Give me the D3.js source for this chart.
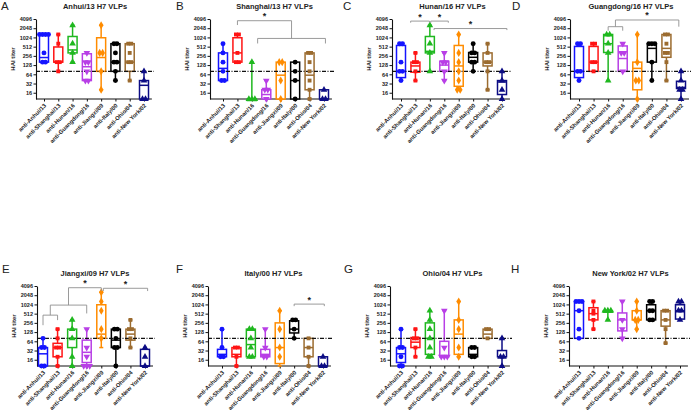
<!DOCTYPE html>
<html>
<head>
<meta charset="utf-8">
<script src="https://cdn.jsdelivr.net/npm/d3@7"></script>
<style>
  body { margin: 0; background: #fff; }
  svg { display: block; font-family: Arial, "Liberation Sans", sans-serif; }
</style>
</head>
<body>
<div id="chart"></div>
<script>
// antisera on the x axis, one box per antiserum
var antisera = ["anti-Anhui/13", "anti-Shanghai/13", "anti-Hunan/16", "anti-Guangdong/16",
                "anti-Jiangxi/09", "anti-Italy/00", "anti-Ohio/04", "anti-New York/02"];
var panelTitles = ["Anhui/13 H7 VLPs", "Shanghai/13 H7 VLPs", "Hunan/16 H7 VLPs", "Guangdong/16 H7 VLPs",
                   "Jiangxi/09 H7 VLPs", "Italy/00 H7 VLPs", "Ohio/04 H7 VLPs", "New York/02 H7 VLPs"];
var panelLetters = ["A", "B", "C", "D", "E", "F", "G", "H"];
var yTicks = [16, 32, 64, 128, 256, 512, 1024, 2048, 4096];
var threshold = 80;

// box stats per antiserum: [min, q1, median, q3, max]
var boxA = [[160,160,226,1280,1280],[80,160,160,500,1280],[160,320,400,1100,2560],[40,40,113,300,320],
            [20,80,226,1000,2560],[40,80,160,640,640],[40,80,160,640,640],[10,10,28,40,80]];
var boxB = [[40,40,100,320,640],[160,160,320,1000,1280],[10,10,10,10,160],[10,10,14,20,40],
            [10,10,60,160,160],[10,10,40,160,160],[10,20,60,320,320],[10,10,10,20,20]];
var boxC = [[40,50,80,560,640],[40,75,120,160,320],[80,320,360,1100,2560],[40,80,128,170,320],
            [20,26,120,560,1280],[80,160,230,330,640],[20,120,160,320,640],[10,14,36,40,80]];
var boxD = [[40,50,80,520,640],[80,80,160,520,640],[40,330,640,1280,1280],[80,80,210,540,640],
            [10,20,100,160,1280],[40,160,450,640,640],[40,230,450,1280,1280],[10,22,24,38,80]];
var boxE = [[10,10,25,40,80],[10,20,40,55,160],[10,40,80,160,320],[10,13,28,70,160],
            [40,80,110,1000,2560],[10,40,70,160,160],[40,70,110,160,320],[10,10,10,35,40]];
var boxF = [[20,20,24,35,160],[10,20,24,40,40],[20,20,50,160,160],[20,20,24,35,160],
            [10,12,40,256,640],[80,120,160,300,320],[10,20,40,80,80],[10,10,10,20,20]];
var boxG = [[10,13,25,40,160],[20,40,60,85,160],[20,24,80,256,640],[20,20,20,64,640],
            [20,24,110,320,1280],[20,20,24,40,40],[80,80,110,160,160],[10,20,20,32,80]];
var boxH = [[80,80,640,1280,1280],[160,320,512,800,1280],[320,640,640,640,640],[80,140,320,540,1280],
            [160,320,320,640,1280],[320,320,640,1000,1280],[56,200,320,640,640],[320,340,640,1000,1280]];

// individual HAI titers
var ptsA = [[1280,1280,1280,1280,320,160,160],[1280,640,160,160,80],[2560,640,320,160],[320,160,160,80,40,40],
            [2560,320,320,80,20],[640,640,320,160,160,80,40],[640,640,320,160,160,40],[80,40,10,10]];
var ptsB = [[640,320,160,80,40,40],[1280,1280,320,160,160],[160,10,10,10],[40,20,20,10],
            [160,160,40,10],[160,80,40,10],[320,320,160,80,40,20,10],[20,10,10]];
var ptsC = [[640,640,160,80,80,40],[320,160,160,80,40],[2560,640,320,80],[320,160,160,80,40],
            [1280,320,160,80,40,20,20],[640,320,320,160,160,80],[640,320,160,160,80,20],[80,40,20,10]];
var ptsD = [[640,640,80,80,40],[640,640,160,160,80],[1280,1280,640,320,40],[640,320,320,80],
            [1280,160,40,40,10],[640,640,640,160,40],[1280,1280,640,320,320,160,40],[80,40,20,20,10]];
var ptsE = [[80,40,40,10,10],[160,80,40,40,20,10],[320,160,80,20,10],[160,40,20,10,10,10],
            [2560,1280,640,160,80],[160,160,80,40,40,10],[320,160,160,80,40],[40,20,10]];
var ptsF = [[160,40,20,20],[40,40,20,10],[160,160,80,40,20,20],[160,40,20,20],
            [640,160,40,20],[320,320,160,80],[80,40,20,10],[20,10,10]];
var ptsG = [[160,40,40,20,10,10],[160,80,80,40,20],[640,320,160,80,40,20,20],[640,40,20,20,20],
            [1280,320,160,40,20],[40,40,20,20],[160,160,80],[80,20,20,10]];
var ptsH = [[1280,1280,1280,640,160,80],[1280,640,512,320,160],[640,640,640,320],[1280,320,160,80],
            [1280,640,320,320,160],[1280,1280,640,640,320,320],[640,640,320,160,56],[1280,1280,640,640,320]];

// significance brackets: category index span, bar level and end drops in titer units
var sigA = [];
var sigB = [{x1: 1, x2: 4.75, h: 3600, d1: 2600, d2: 950, star: true},
            {x1: 2.4, x2: 7.1, h: 950, d1: 650, d2: 650}];
var sigC = [{x1: 0.67, x2: 1.97, h: 3500, d1: 3100, d2: 3100, star: true},
            {x1: 2.06, x2: 3.28, h: 3500, d1: 3100, d2: 3100, star: true},
            {x1: 2.29, x2: 7.34, h: 2000, d1: 1780, d2: 1780, star: true}];
var sigD = [{x1: 2.5, x2: 6.85, h: 3800, d1: 2300, d2: 2300, star: true},
            {x1: 2, x2: 3, h: 2300, d1: 1700, d2: 1700}];
var sigE = [{x1: 0, x2: 1, h: 458, d1: 215, d2: 315},
            {x1: 0.5, x2: 3, h: 975, d1: 458, d2: 520},
            {x1: 1.75, x2: 4, h: 3600, d1: 975, d2: 2800, star: true},
            {x1: 4.14, x2: 7.18, h: 3450, d1: 2800, d2: 2800, star: true}];
var sigF = [{x1: 5, x2: 7.09, h: 1050, d1: 900, d2: 900, star: true}];
var sigG = [];
var sigH = [];

var boxes = [boxA, boxB, boxC, boxD, boxE, boxF, boxG, boxH];
var points = [ptsA, ptsB, ptsC, ptsD, ptsE, ptsF, ptsG, ptsH];
var sigs = [sigA, sigB, sigC, sigD, sigE, sigF, sigG, sigH];

var colors = ["#1414ff", "#ff1414", "#1fb81f", "#b83fe6", "#ff8c00", "#000000", "#9b6b2f", "#0c0c84"];
var shapes = [d3.symbolCircle, d3.symbolSquare, d3.symbolTriangle, "down",
              d3.symbolDiamond, d3.symbolCircle, d3.symbolSquare, d3.symbolTriangle];

// panel placement: y axis x, first/last category x, top of plot, letter position
var layout = [
  {ax: 36,  c0: 44,  c7: 144, top: 19,  lx: 1,   ly: 9.5},
  {ax: 210, c0: 223, c7: 324, top: 19,  lx: 176, ly: 9.5},
  {ax: 392, c0: 401, c7: 502, top: 19,  lx: 343, ly: 9.5},
  {ax: 570, c0: 579, c7: 681, top: 19,  lx: 512, ly: 9.5},
  {ax: 37,  c0: 43,  c7: 145, top: 286, lx: 2,   ly: 273},
  {ax: 208, c0: 222, c7: 323, top: 286, lx: 176, ly: 273},
  {ax: 390, c0: 401, c7: 502, top: 286, lx: 344, ly: 273},
  {ax: 569, c0: 579, c7: 680, top: 286, lx: 511, ly: 273}
];

var width = 691, height = 413;
var svg = d3.select("#chart").append("svg")
    .attr("width", width)
    .attr("height", height);

layout.forEach(function(L, p) {
    var g = svg.append("g");
    var x = d3.scaleLinear().domain([0, 7]).range([L.c0, L.c7]);
    var y = d3.scaleLog().base(2).domain([10, 4096]).range([L.top + 80, L.top]);
    var yBase = L.top + 80;

    // panel letter and title
    g.append("text")
        .attr("x", L.lx).attr("y", L.ly)
        .attr("font-size", 11.5).attr("fill", "#222")
        .text(panelLetters[p]);
    g.append("text")
        .attr("x", (L.c0 + L.c7) / 2 + 1).attr("y", L.top - 10.5)
        .attr("text-anchor", "middle")
        .attr("font-size", 7.5).attr("font-weight", "bold").attr("fill", "#222")
        .text(panelTitles[p]);

    // y axis
    var ya = g.append("g")
        .attr("transform", "translate(" + L.ax + ",0)")
        .call(d3.axisLeft(y).tickValues(yTicks).tickSize(2.5).tickSizeOuter(0)
            .tickPadding(1.5).tickFormat(d3.format("d")));
    ya.selectAll("text").attr("font-size", 5.5).attr("font-weight", "bold").attr("fill", "#222");
    ya.select(".domain").attr("stroke", "#111").attr("stroke-width", 1.1);
    ya.selectAll(".tick line").attr("stroke", "#111");

    g.append("text")
        .attr("transform", "translate(" + (L.ax - 21) + "," + (L.top + 40) + ") rotate(-90)")
        .attr("text-anchor", "middle")
        .attr("font-size", 6).attr("font-weight", "bold").attr("fill", "#222")
        .text("HAI titer");

    // x axis
    g.append("line")
        .attr("x1", L.ax).attr("x2", x(7.55))
        .attr("y1", yBase).attr("y2", yBase)
        .attr("stroke", "#111").attr("stroke-width", 1.1);
    var xa = g.append("g")
        .attr("transform", "translate(0," + yBase + ")")
        .call(d3.axisBottom(x).tickValues(d3.range(8)).tickSize(2.5).tickSizeOuter(0)
            .tickFormat(function(i) { return antisera[i]; }));
    xa.select(".domain").remove();
    xa.selectAll(".tick line").attr("stroke", "#111");
    xa.selectAll("text")
        .attr("font-size", 5.8).attr("font-weight", "bold").attr("fill", "#222")
        .attr("text-anchor", "end")
        .attr("x", -3.5).attr("y", 4.5).attr("dy", "0.35em")
        .attr("transform", "rotate(-45)");

    // boxes
    var stats = boxes[p];
    stats.forEach(function(s, j) {
        var cx = x(j), c = colors[j];
        var bw = 9, cw = 4;
        var gb = g.append("g").attr("stroke", c).attr("stroke-width", 1.5).attr("fill", "none");
        gb.append("line").attr("x1", cx).attr("x2", cx).attr("y1", y(s[0])).attr("y2", y(s[1]));
        gb.append("line").attr("x1", cx).attr("x2", cx).attr("y1", y(s[3])).attr("y2", y(s[4]));
        gb.append("line").attr("x1", cx - cw / 2).attr("x2", cx + cw / 2).attr("y1", y(s[0])).attr("y2", y(s[0]));
        gb.append("line").attr("x1", cx - cw / 2).attr("x2", cx + cw / 2).attr("y1", y(s[4])).attr("y2", y(s[4]));
        gb.append("rect")
            .attr("x", cx - bw / 2).attr("width", bw)
            .attr("y", y(s[3]))
            .attr("height", Math.max(1.5, y(s[1]) - y(s[3])))
            .attr("fill", "#fff");
        gb.append("line").attr("x1", cx - bw / 2).attr("x2", cx + bw / 2).attr("y1", y(s[2])).attr("y2", y(s[2]));
    });

    // detection threshold
    g.append("line")
        .attr("x1", L.ax).attr("x2", L.c7 + 10)
        .attr("y1", y(threshold)).attr("y2", y(threshold))
        .attr("stroke", "#111").attr("stroke-width", 1.1)
        .attr("stroke-dasharray", "4,1.5,1,1.5");

    // individual titers, equal values spread side by side
    points[p].forEach(function(vals, j) {
        var counts = {}, seen = {};
        vals.forEach(function(v) { counts[v] = (counts[v] || 0) + 1; });
        vals.forEach(function(v) {
            var k = seen[v] || 0;
            seen[v] = k + 1;
            var dx = (k - (counts[v] - 1) / 2) * 3;
            var shape = shapes[j];
            var sym = d3.symbol().type(shape === "down" ? d3.symbolTriangle : shape).size(shape === d3.symbolSquare ? 15 : 19);
            g.append("path")
                .attr("d", sym())
                .attr("transform", "translate(" + (x(j) + dx) + "," + y(v) + ")" + (shape === "down" ? " rotate(180)" : ""))
                .attr("fill", colors[j]);
        });
    });

    // significance brackets
    sigs[p].forEach(function(b) {
        g.append("path")
            .attr("d", "M" + x(b.x1) + "," + y(b.d1) + "V" + y(b.h) + "H" + x(b.x2) + "V" + y(b.d2))
            .attr("fill", "none").attr("stroke", "#8f8f8f").attr("stroke-width", 0.9);
        if (b.star) {
            g.append("text")
                .attr("x", x((b.x1 + b.x2) / 2)).attr("y", y(b.h) - 1.5)
                .attr("text-anchor", "middle")
                .attr("font-size", 9).attr("font-weight", "bold").attr("fill", "#222")
                .text("*");
        }
    });
});
</script>
</body>
</html>
